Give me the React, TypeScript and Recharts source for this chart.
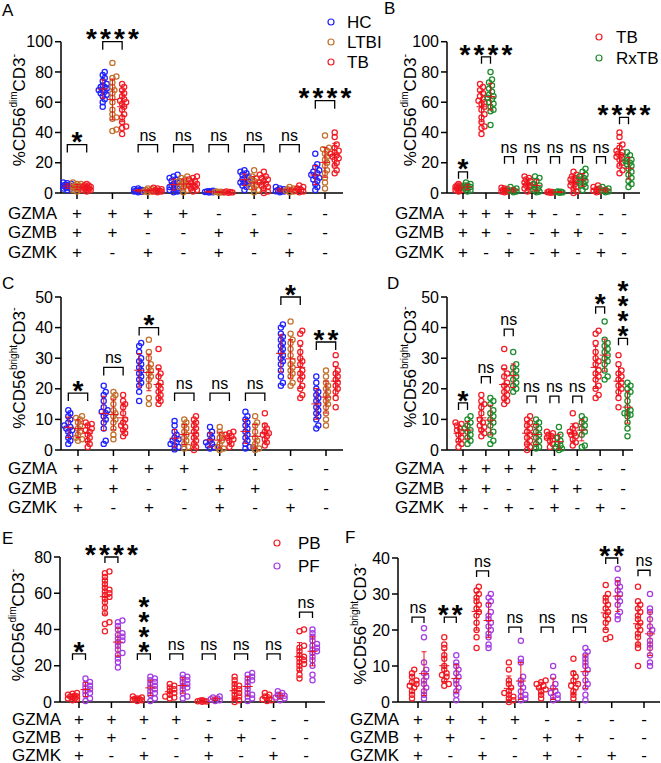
import React from "react";
import { ScatterChart, Scatter, XAxis, YAxis } from "recharts";

const FONT = '"Liberation Sans", Arial, Helvetica, sans-serif';

// marker table under every panel
const GROUPS = [1, 2, 3, 4, 5, 6, 7, 8];
const GZMA = ["+", "+", "+", "+", "-", "-", "-", "-"];
const GZMB = ["+", "+", "-", "-", "+", "+", "-", "-"];
const GZMK = ["+", "-", "+", "-", "+", "-", "+", "-"];
const ROW_NAMES = ["GZMA", "GZMB", "GZMK"];

const BLUE = "#1f22ff";
const BROWN = "#c2702c";
const RED = "#f21d26";
const GREEN = "#1e8c2c";
const PURPLE = "#a53de3";
const ERR = "#e8121c";

// ---- A: %CD56dim CD3-, HC / LTBI / TB
const A_HC = [
  [2, 3, 3.5, 4, 4.5, 5, 5, 5.5, 6, 6.5, 7, 4, 3, 5],
  [57, 60, 62, 64, 65, 66, 67, 68, 68, 69, 70, 70, 71, 72, 74, 76, 78, 80],
  [0.5, 1, 1.5, 2, 2.5, 3, 1, 2, 1.5, 0.8],
  [0.5, 1, 2, 3, 4, 5, 6, 7, 8, 9, 10, 11, 12, 3, 5, 2],
  [0.3, 0.5, 0.8, 1, 1.2, 1.5, 0.6],
  [2, 4, 5, 6, 7, 8, 9, 10, 11, 12, 13, 14, 15, 7, 9],
  [0.5, 1, 1.5, 2, 3, 4, 2.5, 1.2],
  [2, 4, 6, 8, 9, 10, 11, 12, 13, 14, 15, 17, 19, 26],
];
const A_LTBI = [
  [1, 2, 3, 4, 5, 6, 7, 3, 4, 5, 2, 4, 6, 3],
  [86, 77, 76, 73, 70, 68, 66, 63, 60, 55, 52, 50, 49, 42, 41],
  [0.5, 1, 2, 3, 1.5, 2.5, 1],
  [0.5, 2, 3, 4, 5, 6, 7, 8, 9, 10, 11, 6],
  [0.2, 0.4, 0.6, 0.8, 1],
  [0.5, 2, 3, 5, 6, 7, 8, 9, 10, 11, 15, 4],
  [0.5, 1, 1.5, 2, 3, 4, 2.5],
  [3, 7, 10, 13, 15, 18, 20, 22, 24, 26, 28, 29, 30, 38],
];
const A_TB = [
  [1, 2, 3, 4, 5, 6, 2, 3, 4, 5, 3, 2, 4],
  [72, 70, 68, 66, 64, 62, 61, 60, 59, 57, 55, 52, 50, 47, 44, 43, 39],
  [0.5, 1, 2, 3, 1.5, 2.5, 1, 3.5],
  [1, 2, 3, 4, 5, 6, 7, 8, 9, 10, 11, 5],
  [0.2, 0.4, 0.5, 0.7, 1],
  [0, 1, 3, 4, 6, 7, 8, 9, 10, 11, 12, 14, 5],
  [0.5, 1, 2, 3, 4, 5, 1.5],
  [13, 15, 18, 20, 22, 23, 24, 25, 26, 27, 28, 30, 32, 37, 40],
];
const A_SIG = ["*", "****", "ns", "ns", "ns", "ns", "ns", "****"];
const A_SIG_Y = [32, 100, 32, 32, 32, 32, 32, 61];

// ---- B: TB vs RxTB
const B_TB = A_TB;
const B_RX = [
  [1, 2, 3, 4, 5, 6, 7, 4, 5, 3],
  [45, 54, 55, 57, 59, 60, 62, 63, 64, 65, 67, 69, 71, 73, 75, 80],
  [0.5, 1, 1.5, 2, 3, 4],
  [0.5, 1, 2, 3, 4, 5, 6, 8, 10, 11],
  [0.2, 0.4, 0.6, 0.8, 1],
  [2, 4, 5, 6, 7, 8, 9, 10, 11, 12, 14, 16],
  [0.5, 1, 1.5, 2, 3, 4],
  [4, 6, 8, 10, 12, 14, 16, 18, 19, 20, 21, 22, 23, 25, 27],
];
const B_SIG = ["*", "****", "ns", "ns", "ns", "ns", "ns", "****"];
const B_SIG_Y = [14, 90, 24, 24, 24, 24, 24, 50];

// ---- C: %CD56bright CD3-, HC / LTBI / TB
const C_HC = [
  [2, 3, 4, 5, 6, 6.5, 7, 7.5, 8, 9, 10, 11, 12, 13],
  [2, 3, 7, 9, 10, 11, 12, 12.5, 13, 14, 16, 18, 19, 21],
  [16, 19, 21, 22, 23, 24, 25, 26, 27, 28, 29, 30, 32, 34, 35],
  [0.2, 1, 1.5, 2, 2.5, 3, 3.5, 4, 5, 6, 8, 9.5],
  [0.5, 1, 1.5, 2, 2.5, 3, 4, 5, 6, 7.5],
  [0.5, 1, 2, 3, 4, 5, 6, 7, 8, 9, 10, 11, 12.5],
  [21, 22, 24, 26, 28, 29, 30, 31, 32, 33, 34, 35, 36, 37, 38, 40, 41],
  [7, 8, 10, 11, 12, 13, 14, 15, 16, 17, 18, 19, 20, 22, 24],
];
const C_LTBI = [
  [3, 3.5, 4, 5, 6, 7, 8, 9, 10, 10.5, 11],
  [3.5, 5, 7, 9, 10, 11, 12, 13, 15, 17, 18, 19],
  [15, 17, 21, 23, 24, 25, 26, 27, 28, 30, 32, 36],
  [0.5, 1, 2, 3, 4, 5, 6, 7, 8, 9, 10],
  [0, 0.5, 1, 2, 3, 4, 5, 6, 7.5],
  [0, 0.5, 1, 2, 3, 4, 6, 8, 9, 11],
  [21, 22, 24, 25, 26, 27, 28, 29, 31, 33, 35, 36, 38, 42],
  [8, 10, 12, 14, 15, 16, 17, 18, 19, 20, 21, 22, 24, 26],
];
const C_TB = [
  [1, 2, 3, 4, 5, 6, 6.5, 7, 8, 8.5, 9],
  [4.5, 5.5, 6.5, 7.5, 8, 9, 10, 12, 14, 15, 16, 18],
  [15, 16, 17, 18, 19, 20, 21, 22, 24, 25, 27, 33],
  [0, 1, 2, 3, 4, 5, 6, 7, 8, 9, 10, 11],
  [1, 2, 3, 3.5, 4, 4.5, 5, 5.5, 6],
  [1.5, 2.5, 3.5, 4.5, 5, 5.5, 6, 7, 8, 12],
  [17, 18, 20, 21, 23, 24, 25, 26, 28, 29, 30, 32, 35, 38, 39],
  [14, 17, 19, 20, 21, 22, 23, 24, 25, 26, 28, 31],
];
const C_SIG = ["*", "ns", "*", "ns", "ns", "ns", "*", "**"];
const C_SIG_Y = [18.6, 27, 40, 18.6, 18.6, 18.6, 50, 35.3];

// ---- D: TB vs RxTB
const D_TB = C_TB;
const D_RX = [
  [2, 3, 4, 5, 6, 6.5, 7, 8, 9, 10, 11],
  [2, 3, 5, 6, 8, 9, 10, 11, 12, 13, 15, 16, 17],
  [19, 20, 21, 22, 23, 24, 25, 26, 27, 28, 32],
  [0.5, 1, 2, 3, 4, 5, 6, 7, 8, 9, 10],
  [0, 0.5, 1, 1.5, 2, 3, 4, 5, 7.5],
  [1, 1.5, 5, 6, 7, 8, 9, 10, 11],
  [23, 24, 26, 28, 29, 30, 31, 32, 33, 34, 35, 36, 42],
  [4.5, 7, 9, 11, 11.5, 12, 12, 13, 14, 16, 18, 19, 20, 21, 22],
];
const D_SIG = ["*", "ns", "ns", "ns", "ns", "ns", "*", "*\n*\n*\n*"];
const D_SIG_Y = [15.4, 24, 39.5, 17.6, 17.6, 17.6, 46.8, 36.5];

// ---- E: %CD56dim CD3-, PB vs PF
const E_PB = [
  [1, 1.5, 2, 2.5, 3, 3.5, 4, 4.5, 5, 2, 3],
  [39, 43, 44, 49, 52, 55, 57, 58, 59, 60, 61, 62, 63, 65, 67, 69, 71, 72],
  [0.5, 1, 1.5, 2, 2.5, 3, 1.2, 1.8],
  [2, 2.5, 3, 4, 5, 6, 7, 8, 9, 10],
  [0.1, 0.3, 0.5, 0.7, 1, 0.4],
  [0, 1, 2, 3, 4, 5, 6, 7, 8, 9, 10, 12, 14],
  [0.5, 1, 1.5, 2, 3, 4, 5],
  [13, 15, 18, 20, 21, 22, 23, 24, 25, 26, 28, 30, 31, 39, 40],
];
const E_PF = [
  [0.5, 2, 4, 5, 6, 7, 8, 9, 10, 11, 13],
  [19, 22, 24, 26, 27, 29, 31, 33, 34, 35, 36, 37, 38, 40, 42, 44, 45],
  [0.5, 2, 4, 5, 6, 7, 8, 9, 10, 11, 12, 13, 14],
  [2, 3, 5, 7, 8, 9, 10, 11, 12, 13, 14, 15],
  [0.5, 1, 1.5, 2, 2.5, 3],
  [0.5, 2, 3, 4, 5, 7, 9, 11, 12, 13, 14, 15, 16],
  [1, 2, 2.5, 3, 3.5, 4, 5, 6],
  [12, 15, 20, 23, 25, 27, 28, 29, 30, 31, 32, 34, 36, 38, 40],
];
const E_SIG = ["*", "****", "*\n*\n*\n*", "ns", "ns", "ns", "ns", "ns"];
const E_SIG_Y = [26.5, 80, 26.5, 26.5, 26.5, 26.5, 26.5, 49.6];

// ---- F: %CD56bright CD3-, PB vs PF
const F_PB = [
  [1, 2, 3, 4, 4.5, 5, 5.5, 6, 7, 8, 9],
  [4.5, 5, 6, 7, 7.5, 8, 9, 10, 12, 13, 15, 16, 18],
  [15, 18, 20, 22, 24, 25, 26, 27, 28, 29, 30, 31, 32],
  [0, 0.5, 1, 1.5, 2, 2.5, 3, 4, 5, 6, 9, 11],
  [1, 2, 3, 3.5, 4, 4.5, 5, 5.5, 6],
  [1, 2, 3, 4, 4.5, 5, 6, 7, 8, 12],
  [17.5, 18, 20, 22, 23, 24, 25, 26, 27, 28, 29, 30, 32.5],
  [10, 15, 16, 18, 19, 20, 21, 22, 23, 24, 25, 26, 27, 28, 32],
];
const F_PF = [
  [1, 2, 3, 4, 5, 6, 7, 8, 9, 11, 18, 20.5],
  [0.5, 2, 3, 4, 5, 6, 7, 8, 9, 10, 11, 13],
  [15, 16, 18, 19, 20, 21, 22, 23, 24, 25, 27, 28, 29, 30],
  [0.5, 1, 1.5, 2, 3, 4, 5, 6, 7, 11, 12, 17],
  [0.5, 1, 1.5, 2, 2.5, 3, 4, 5, 7, 10],
  [0.5, 2, 4, 5, 6, 8, 9, 10, 11, 12, 13, 14, 15],
  [23, 24, 25, 27, 28, 29, 30, 31, 32, 33, 34, 37],
  [10, 11, 13, 15, 16, 17, 19, 20, 21, 23, 25, 26, 30],
];
const F_SIG = ["ns", "**", "ns", "ns", "ns", "ns", "**", "ns"];
const F_SIG_Y = [23.6, 23.6, 36.4, 20.8, 20.8, 20.8, 40, 36.6];

type Series = { name: string; color: string; values: number[][] };
type Cfg = {
  letter: string; letterX: number; letterY: number;
  left: number; top: number; width: number; height: number;
  plotL: number; plotR: number; plotT: number; plotB: number;
  g1: number; g8: number; yMax: number; yTicks: number[];
  gap: number; swarm: number; leg: number;
  rowX: number; rows: number[];
  sup: string; yLabelX: number; yLabelY: number;
  legend?: { cx: number; tx: number; ys: number[] };
  series: Series[]; sig: string[]; sigY: number[];
};

const PANELS: Cfg[] = [
  {
    letter: "A", letterX: 2, letterY: 10, left: 0, top: 0, width: 392, height: 263,
    plotL: 61, plotR: 343, plotT: 41.7, plotB: 193, g1: 77, g8: 325,
    yMax: 100, yTicks: [0, 20, 40, 60, 80, 100], gap: 9.7, swarm: 4, leg: 8,
    rowX: 8, rows: [213, 232, 252], sup: "dim", yLabelX: 19, yLabelY: 110,
    legend: { cx: 331, tx: 347, ys: [22, 42, 62] },
    series: [
      { name: "HC", color: BLUE, values: A_HC },
      { name: "LTBI", color: BROWN, values: A_LTBI },
      { name: "TB", color: RED, values: A_TB },
    ],
    sig: A_SIG, sigY: A_SIG_Y,
  },
  {
    letter: "B", letterX: 384, letterY: 8, left: 340, top: 0, width: 321, height: 263,
    plotL: 447, plotR: 640, plotT: 41.7, plotB: 193, g1: 463, g8: 624,
    yMax: 100, yTicks: [0, 20, 40, 60, 80, 100], gap: 9, swarm: 3, leg: 7,
    rowX: 395, rows: [213, 232, 252], sup: "dim", yLabelX: 410, yLabelY: 110,
    legend: { cx: 599, tx: 616, ys: [37, 58] },
    series: [
      { name: "TB", color: RED, values: B_TB },
      { name: "RxTB", color: GREEN, values: B_RX },
    ],
    sig: B_SIG, sigY: B_SIG_Y,
  },
  {
    letter: "C", letterX: 2, letterY: 283, left: 0, top: 258, width: 346, height: 257,
    plotL: 61, plotR: 343, plotT: 297, plotB: 450, g1: 78, g8: 326,
    yMax: 50, yTicks: [0, 10, 20, 30, 40, 50], gap: 9.7, swarm: 4, leg: 8,
    rowX: 8, rows: [468, 488, 507], sup: "bright", yLabelX: 19, yLabelY: 368,
    series: [
      { name: "HC", color: BLUE, values: C_HC },
      { name: "LTBI", color: BROWN, values: C_LTBI },
      { name: "TB", color: RED, values: C_TB },
    ],
    sig: C_SIG, sigY: C_SIG_Y,
  },
  {
    letter: "D", letterX: 387, letterY: 283, left: 340, top: 258, width: 296, height: 257,
    plotL: 447, plotR: 633, plotT: 297, plotB: 450, g1: 463, g8: 623,
    yMax: 50, yTicks: [0, 10, 20, 30, 40, 50], gap: 9, swarm: 3, leg: 7,
    rowX: 395, rows: [468, 488, 507], sup: "bright", yLabelX: 410, yLabelY: 367,
    series: [
      { name: "TB", color: RED, values: D_TB },
      { name: "RxTB", color: GREEN, values: D_RX },
    ],
    sig: D_SIG, sigY: D_SIG_Y,
  },
  {
    letter: "E", letterX: 2, letterY: 538, left: 0, top: 515, width: 328, height: 248,
    plotL: 60, plotR: 325, plotT: 557, plotB: 702, g1: 79, g8: 306,
    yMax: 80, yTicks: [0, 20, 40, 60, 80], gap: 13, swarm: 4.5, leg: 6,
    rowX: 12, rows: [719, 737, 755], sup: "dim", yLabelX: 18, yLabelY: 625,
    legend: { cx: 277, tx: 298, ys: [543, 566] },
    series: [
      { name: "PB", color: RED, values: E_PB },
      { name: "PF", color: PURPLE, values: E_PF },
    ],
    sig: E_SIG, sigY: E_SIG_Y,
  },
  {
    letter: "F", letterX: 345, letterY: 537, left: 340, top: 515, width: 321, height: 248,
    plotL: 398, plotR: 660, plotT: 558, plotB: 702, g1: 418, g8: 644,
    yMax: 40, yTicks: [0, 10, 20, 30, 40], gap: 12, swarm: 4.5, leg: 6,
    rowX: 350, rows: [719, 737, 755], sup: "bright", yLabelX: 360, yLabelY: 624,
    series: [
      { name: "PB", color: RED, values: F_PB },
      { name: "PF", color: PURPLE, values: F_PF },
    ],
    sig: F_SIG, sigY: F_SIG_Y,
  },
];

// simple beeswarm: push overlapping dots sideways (pixel space)
function swarm(vals: number[], ppuY: number, half: number) {
  const order = vals.map((v, i) => ({ v, i })).sort((a, b) => a.v - b.v);
  const placed: { x: number; y: number }[] = [];
  const out = new Array(vals.length).fill(0);
  const step = half / 2;
  for (const p of order) {
    const y = p.v * ppuY;
    let best = 0, bestD = -1;
    for (let k = 0; k <= 4; k++) {
      const c = k === 0 ? 0 : (k % 2 ? 1 : -1) * Math.ceil(k / 2) * step;
      let d = Infinity;
      for (const q of placed) d = Math.min(d, Math.hypot(q.x - c, q.y - y));
      if (d >= 3.6) { best = c; break; }
      if (d > bestD) { bestD = d; best = c; }
    }
    placed.push({ x: best, y });
    out[p.i] = best;
  }
  return out;
}

const mean = (a: number[]) => a.reduce((s, v) => s + v, 0) / a.length;
const sd = (a: number[]) => {
  const m = mean(a);
  return Math.sqrt(a.reduce((s, v) => s + (v - m) ** 2, 0) / (a.length - 1));
};

function Decor({ cfg }: { cfg: Cfg }) {
  const X = (x: number) => x - cfg.left;
  const Y = (y: number) => y - cfg.top;
  return (
    <g fontFamily={FONT}>
      <text x={X(cfg.letterX)} y={Y(cfg.letterY)} fontSize={17} dominantBaseline="central" fill="#000">{cfg.letter}</text>
      <text transform={`translate(${X(cfg.yLabelX)},${Y(cfg.yLabelY)}) rotate(-90)`} textAnchor="middle"
        dominantBaseline="central" fontSize={17} fill="#000">
        %CD56<tspan fontSize={10} dy={-6}>{cfg.sup}</tspan>
        <tspan fontSize={17} dy={6}>CD3</tspan>
        <tspan fontSize={11} dy={-6}>-</tspan>
      </text>
      {ROW_NAMES.map((n, r) => (
        <text key={n} x={X(cfg.rowX)} y={Y(cfg.rows[r])} fontSize={17} dominantBaseline="central" fill="#000">{n}</text>
      ))}
      {cfg.legend && cfg.series.map((s, i) => (
        <g key={s.name}>
          <circle cx={X(cfg.legend!.cx)} cy={Y(cfg.legend!.ys[i])} r={3} fill="none" stroke={s.color} strokeWidth={1.2} />
          <text x={X(cfg.legend!.tx)} y={Y(cfg.legend!.ys[i])} fontSize={17} dominantBaseline="central" fill="#000">{s.name}</text>
        </g>
      ))}
    </g>
  );
}

function Panel({ cfg }: { cfg: Cfg }) {
  const ppuX = (cfg.g8 - cfg.g1) / 7;
  const ppuY = (cfg.plotB - cfg.plotT) / cfg.yMax;
  const xDomain = [1 - (cfg.g1 - cfg.plotL) / ppuX, 8 + (cfg.plotR - cfg.g8) / ppuX];
  const n = cfg.series.length;
  const offs = cfg.series.map((_, s) => ((s - (n - 1) / 2) * cfg.gap) / ppuX);
  const bracketHalf = (cfg.gap * (n - 1)) / 2;
  const Y = (y: number) => y - cfg.top;

  const dots = cfg.series.map((s, si) =>
    s.values.flatMap((vals, gi) => {
      const jit = swarm(vals, ppuY, cfg.swarm);
      return vals.map((v, k) => ({ x: GROUPS[gi] + offs[si] + jit[k] / ppuX, y: v }));
    })
  );
  const stats = cfg.series.map((s, si) =>
    s.values.map((vals, gi) => ({ x: GROUPS[gi] + offs[si], y: mean(vals), sd: sd(vals) }))
  );
  const sigData = GROUPS.map((g, i) => ({ x: g, y: cfg.sigY[i], label: cfg.sig[i] }));

  const tableTick = (p: any) => {
    const i = p.payload.value - 1;
    return (
      <g>
        {[GZMA, GZMB, GZMK].map((row, r) => (
          <text key={r} x={p.x} y={Y(cfg.rows[r])} textAnchor="middle" dominantBaseline="central"
            fontSize={17} fontFamily={FONT} fill="#000">{row[i]}</text>
        ))}
      </g>
    );
  };

  const errShape = (p: any) => {
    const h = p.payload.sd * ppuY;
    return (
      <g stroke={ERR} strokeWidth={1} fill="none">
        <line x1={p.cx} x2={p.cx} y1={p.cy - h} y2={p.cy + h} />
        <line x1={p.cx - 2.5} x2={p.cx + 2.5} y1={p.cy - h} y2={p.cy - h} />
        <line x1={p.cx - 2.5} x2={p.cx + 2.5} y1={p.cy + h} y2={p.cy + h} />
        <line x1={p.cx - 5} x2={p.cx + 5} y1={p.cy} y2={p.cy} />
      </g>
    );
  };

  const sigShape = (p: any) => {
    const { cx, cy } = p;
    const label: string = p.payload.label;
    let txt: React.ReactNode;
    if (label === "ns") {
      txt = <text x={cx} y={cy - 4} textAnchor="middle" fontSize={16} fill="#000">ns</text>;
    } else {
      // one text element per label, each asterisk placed by its own x / y
      const lines = label.split("\n");
      const xs: number[] = [];
      const ys: number[] = [];
      lines.forEach((line, li) => {
        [...line].forEach((_, ci) => {
          xs.push(cx + (ci - (line.length - 1) / 2) * 14);
          ys.push(cy - 9 - (lines.length - 1 - li) * 15 + 0.56 * 28);
        });
      });
      txt = (
        <text x={xs.join(" ")} y={ys.join(" ")} textAnchor="middle" fontSize={28} fontWeight="bold" fill="#000">
          {lines.join("")}
        </text>
      );
    }
    return (
      <g fontFamily={FONT}>
        <path d={`M${cx - bracketHalf},${cy + cfg.leg}V${cy}H${cx + bracketHalf}V${cy + cfg.leg}`}
          stroke="#000" strokeWidth={1.3} fill="none" />
        {txt}
      </g>
    );
  };

  return (
    <div style={{ position: "absolute", left: cfg.left, top: cfg.top }}>
      <ScatterChart width={cfg.width} height={cfg.height}
        margin={{ top: cfg.plotT - cfg.top, right: cfg.left + cfg.width - cfg.plotR, bottom: 0, left: 0 }}>
        <XAxis type="number" dataKey="x" domain={xDomain} ticks={GROUPS} interval={0}
          height={cfg.top + cfg.height - cfg.plotB} tickSize={6}
          axisLine={{ stroke: "#000", strokeWidth: 1.5 }} tickLine={{ stroke: "#000", strokeWidth: 1.5 }}
          tick={tableTick} />
        <YAxis type="number" dataKey="y" domain={[0, cfg.yMax]} ticks={cfg.yTicks} interval={0}
          width={cfg.plotL - cfg.left} tickSize={6}
          axisLine={{ stroke: "#000", strokeWidth: 1.5 }} tickLine={{ stroke: "#000", strokeWidth: 1.5 }}
          tick={{ fontSize: 16, fill: "#000", fontFamily: FONT }}
          label={<Decor cfg={cfg} />} />
        {cfg.series.map((s, si) => (
          <Scatter key={s.name} name={s.name} data={dots[si]} isAnimationActive={false}
            shape={(p: any) => (
              <circle cx={p.cx} cy={p.cy} r={2.6} fill="none" stroke={s.color} strokeWidth={1.25} />
            )} />
        ))}
        {cfg.series.map((s, si) => (
          <Scatter key={`sd-${s.name}`} data={stats[si]} isAnimationActive={false} shape={errShape} />
        ))}
        <Scatter data={sigData} isAnimationActive={false} shape={sigShape} />
      </ScatterChart>
    </div>
  );
}

export default function App() {
  return (
    <div style={{ position: "absolute", left: 0, top: 0, width: 661, height: 763, background: "#fff", fontFamily: FONT }}>
      {PANELS.map((p) => (
        <Panel key={p.letter} cfg={p} />
      ))}
    </div>
  );
}
